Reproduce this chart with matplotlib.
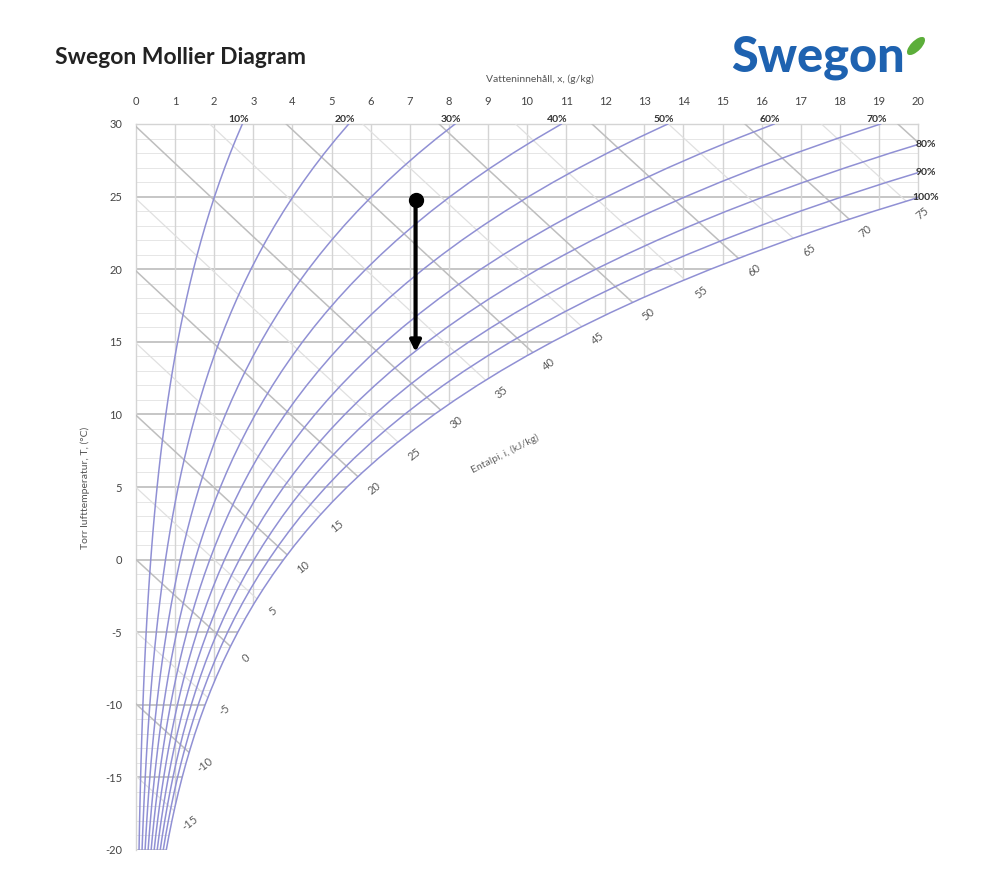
import numpy as np
import matplotlib.pyplot as plt
from matplotlib.patches import Polygon, Ellipse

plt.rcParams['font.family'] = ['Lato', 'DejaVu Sans']
plt.rcParams['axes.unicode_minus'] = False

# torrtemperatur (°C) och mättnadshalt vid 100 % (g/kg)
temps = list(range(-20, 31))
x_sat = [0.774, 0.843, 0.918, 0.999, 1.086, 1.180, 1.281, 1.390, 1.506, 1.632,
         1.767, 1.912, 2.067, 2.233, 2.412, 2.603, 2.807, 3.025, 3.259, 3.508,
         3.775, 4.060, 4.364, 4.686, 5.031, 5.398, 5.790, 6.209, 6.655, 7.129,
         7.631, 8.165, 8.732, 9.333, 9.972, 10.649, 11.367, 12.129, 12.936, 13.791,
         14.696, 15.656, 16.670, 17.744, 18.880, 20.082, 21.352, 22.696, 24.116, 25.616,
         27.201]
rh_levels = [10, 20, 30, 40, 50, 60, 70, 80, 90, 100]
enthalpy_lines = list(range(-15, 85, 5))
enthalpy_labels = list(range(-15, 80, 5))
x_ticks = list(range(0, 21))
t_ticks = list(range(-20, 31, 5))

# kylprocess: från 25 °C ned till ca 14 °C vid konstant x
process_x = 7.15
process_t = [24.8, 14.3]

temps = np.array(temps, dtype=float)
x_sat = np.array(x_sat)


def enthalpy_t(h, x):
    return (h - 2.501 * x) / (1.006 + 0.00186 * x)


fig = plt.figure(figsize=(9.94, 8.86), dpi=100)
ax = fig.add_axes([136 / 994, 36 / 886, 782 / 994, 726 / 886])
ax.set_xlim(0, 20)
ax.set_ylim(-20, 30)
for s in ax.spines.values():
    s.set_visible(False)

# område till vänster om mättnadskurvan
t_edge = np.interp(20, x_sat, temps)
verts = [(0, 30), (20, 30), (20, t_edge)]
for x, t in zip(x_sat[::-1], temps[::-1]):
    if x < 20:
        verts.append((x, t))
verts.append((0, -20))
region = Polygon(verts, closed=True, facecolor='none', edgecolor='none')
ax.add_patch(region)

# rutnät
for t in range(-20, 31):
    major = t % 5 == 0
    ln, = ax.plot([0, 20], [t, t], color='#c6c6c6' if major else '#e6e6e6',
                  lw=1.4 if major else 0.7, zorder=1)
    ln.set_clip_path(region)
for x in x_ticks[1:-1]:
    ln, = ax.plot([x, x], [-20, 30], color='#d4d4d4', lw=1.0, zorder=1)
    ln.set_clip_path(region)
ax.plot([0, 20], [30, 30], color='#d4d4d4', lw=1.0, clip_on=False, zorder=1)
ax.plot([0, 0], [-20, 30], color='#d4d4d4', lw=1.0, clip_on=False, zorder=1)
ax.plot([20, 20], [t_edge, 30], color='#d4d4d4', lw=1.0, clip_on=False, zorder=1)

# entalpilinjer
xx = np.linspace(0, 20, 200)
for h in enthalpy_lines:
    dark = h % 10 == 0
    ln, = ax.plot(xx, enthalpy_t(h, xx), color='#bebebe' if dark else '#e0e0e0',
                  lw=1.1 if dark else 0.9, zorder=2)
    ln.set_clip_path(region)

# relativ fuktighet
for rh in rh_levels:
    ax.plot(x_sat * rh / 100, temps, color='#9090d4', lw=1.1, zorder=3)
    xt = x_sat[-1] * rh / 100
    if xt < 20:
        ax.annotate(f'{rh}%', (xt, 30), xytext=(-4, 4), textcoords='offset pixels',
                    ha='center', va='center', fontsize=7.5, fontweight='bold',
                    color='#333333', annotation_clip=False)
    else:
        tr = np.interp(20, x_sat * rh / 100, temps)
        ax.annotate(f'{rh}%', (20, tr), xytext=(8, 0), textcoords='offset pixels',
                    ha='center', va='center', fontsize=7.5, fontweight='bold',
                    color='#333333', annotation_clip=False)

# entalpietiketter längs mättnadskurvan
h_sat = 1.006 * temps + x_sat * (2501 + 1.86 * temps) / 1000
for h in enthalpy_labels:
    tl = np.interp(h, h_sat, temps)
    xl = np.interp(tl, temps, x_sat)
    if xl > 20:
        xl, tl = 20, enthalpy_t(h, 20)
    ax.annotate(str(h), (xl, tl), xytext=(16, -12), textcoords='offset pixels',
                ha='center', va='center', fontsize=8, color='#5a5a5a',
                rotation=38, annotation_clip=False)
ax.text(9.44, 7.3, 'Entalpi, i, (kJ/kg)', rotation=27, ha='center', va='center',
        fontsize=7.5, color='#666666')

# process
ax.annotate('', xy=(process_x, process_t[1]), xytext=(process_x, process_t[0]),
            arrowprops=dict(arrowstyle='-|>', lw=3, color='black', mutation_scale=16,
                            shrinkA=0, shrinkB=0), zorder=5)
ax.plot([process_x], [process_t[0]], 'o', color='black', ms=10, zorder=6)

# axlar
ax.xaxis.tick_top()
ax.set_xticks(x_ticks)
ax.set_yticks(t_ticks)
ax.tick_params(length=0, labelsize=8, labelcolor='#444444')
ax.tick_params(axis='x', pad=12)
ax.tick_params(axis='y', pad=10)

fig.text(540 / 994, 1 - 79 / 886, 'Vatteninnehåll, x, (g/kg)', ha='center', va='center',
         fontsize=7.5, color='#555555')
fig.text(85 / 994, 1 - 488 / 886, 'Torr lufttemperatur, T, (°C)', rotation=90,
         ha='center', va='center', fontsize=7.5, color='#555555')
fig.text(55 / 994, 1 - 64 / 886, 'Swegon Mollier Diagram', ha='left', va='baseline',
         fontsize=16.5, fontweight='bold', color='#222222')

# logotyp
fig.text(731 / 994, 1 - 72 / 886, 'Swegon', ha='left', va='baseline',
         fontsize=35, fontweight='black', color='#1e62b0')
fig.patches.append(Ellipse((916 / 994, 1 - 46 / 886), 0.011, 0.025, angle=-40,
                           transform=fig.transFigure, facecolor='#5cae3a',
                           edgecolor='none'))

fig.savefig('out.png', dpi=100, facecolor='white')
